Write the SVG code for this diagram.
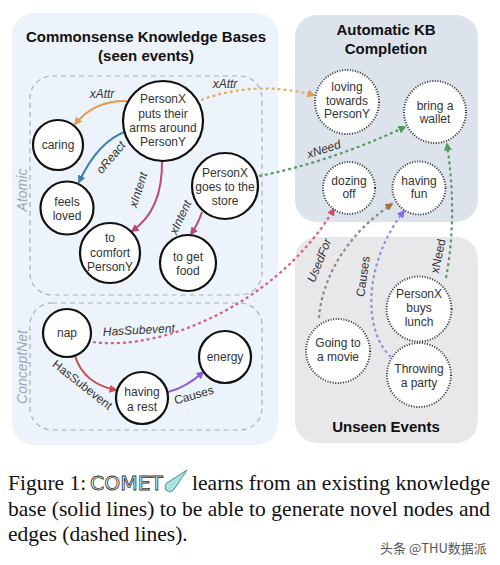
<svg xmlns="http://www.w3.org/2000/svg" width="500" height="565" viewBox="0 0 500 565">
<style>
.t{font-family:"Liberation Sans",Arial,sans-serif;font-size:12px;fill:#333;text-anchor:middle}
.title{font-family:"Liberation Sans",Arial,sans-serif;font-size:15px;font-weight:bold;fill:#111;text-anchor:middle}
.lab{font-family:"Liberation Sans",Arial,sans-serif;font-size:12px;fill:#333;text-anchor:middle}
.it{font-style:italic}
.grp{font-family:"Liberation Sans",Arial,sans-serif;font-size:14px;fill:#9aa7b8;text-anchor:middle;font-style:italic}
.n{fill:#fff;stroke:#111;stroke-width:2.2}
.d{fill:#fff;stroke:#333;stroke-width:2;stroke-dasharray:1 1.6}
.box{fill:none;stroke:#aab0b8;stroke-width:1.2;stroke-dasharray:5 4}
.e{fill:none;stroke-width:2}
.de{fill:none;stroke-width:2.2;stroke-dasharray:3 3}
.cap{font-family:"Liberation Serif","Times New Roman",serif;font-size:21.5px;fill:#111}
</style>
<defs>
<marker id="mOr" viewBox="0 0 10 10" refX="8" refY="5" markerWidth="8" markerHeight="8" markerUnits="userSpaceOnUse" orient="auto"><path d="M0,0 L10,5 L0,10 Z" fill="#e49a4f"/></marker>
<marker id="mBl" viewBox="0 0 10 10" refX="8" refY="5" markerWidth="8" markerHeight="8" markerUnits="userSpaceOnUse" orient="auto"><path d="M0,0 L10,5 L0,10 Z" fill="#3f7fb3"/></marker>
<marker id="mMg" viewBox="0 0 10 10" refX="8" refY="5" markerWidth="8" markerHeight="8" markerUnits="userSpaceOnUse" orient="auto"><path d="M0,0 L10,5 L0,10 Z" fill="#b8487e"/></marker>
<marker id="mRd" viewBox="0 0 10 10" refX="8" refY="5" markerWidth="8" markerHeight="8" markerUnits="userSpaceOnUse" orient="auto"><path d="M0,0 L10,5 L0,10 Z" fill="#c44f4f"/></marker>
<marker id="mPu" viewBox="0 0 10 10" refX="8" refY="5" markerWidth="8" markerHeight="8" markerUnits="userSpaceOnUse" orient="auto"><path d="M0,0 L10,5 L0,10 Z" fill="#8d5ddb"/></marker>
<marker id="mGr" viewBox="0 0 10 10" refX="8" refY="5" markerWidth="8" markerHeight="8" markerUnits="userSpaceOnUse" orient="auto"><path d="M0,0 L10,5 L0,10 Z" fill="#4f9a5a"/></marker>
<marker id="mPk" viewBox="0 0 10 10" refX="8" refY="5" markerWidth="8" markerHeight="8" markerUnits="userSpaceOnUse" orient="auto"><path d="M0,0 L10,5 L0,10 Z" fill="#d24a6a"/></marker>
<marker id="mBr" viewBox="0 0 10 10" refX="8" refY="5" markerWidth="8" markerHeight="8" markerUnits="userSpaceOnUse" orient="auto"><path d="M0,0 L10,5 L0,10 Z" fill="#a4703c"/></marker>
<marker id="mLv" viewBox="0 0 10 10" refX="8" refY="5" markerWidth="8" markerHeight="8" markerUnits="userSpaceOnUse" orient="auto"><path d="M0,0 L10,5 L0,10 Z" fill="#8a6be0"/></marker>
</defs>
<rect width="500" height="565" fill="#fff"/>

<g id="panels">
<rect x="12" y="13" width="266" height="432" rx="22" fill="#edf3fa"/>
<rect x="295" y="15" width="183" height="207" rx="22" fill="#dde3eb"/>
<rect x="295" y="237" width="183" height="206" rx="22" fill="#e8e8ea"/>
<rect class="box" x="30" y="76" width="232" height="219" rx="22"/>
<rect class="box" x="30" y="303" width="232" height="127" rx="22"/>
<text class="title" x="146" y="42">Commonsense Knowledge Bases</text>
<text class="title" x="146" y="61">(seen events)</text>
<text class="title" x="386" y="35">Automatic KB</text>
<text class="title" x="386" y="54">Completion</text>
<text class="title" x="386" y="432">Unseen Events</text>
<text class="grp" transform="translate(27,190) rotate(-90)">Atomic</text>
<text class="grp" transform="translate(27,367) rotate(-90)">ConceptNet</text>
</g>

<g id="connectors">
<path class="e" stroke="#e49a4f" d="M127,101 Q95,100 75,124" marker-end="url(#mOr)"/>
<path class="e" stroke="#3f7fb3" d="M127,131 Q98,141 79,182" marker-end="url(#mBl)"/>
<path class="e" stroke="#b8487e" d="M162,160 Q163,210 132,231" marker-end="url(#mMg)"/>
<path class="e" stroke="#b8487e" d="M202,212 Q198,224 191,234" marker-end="url(#mMg)"/>
<path class="e" stroke="#c44f4f" d="M75,356 Q84,384 116,390" marker-end="url(#mRd)"/>
<path class="e" stroke="#8d5ddb" d="M168,392 Q187,387 203,372" marker-end="url(#mPu)"/>
<path class="de" stroke="#e0ad70" d="M201,100 Q255,80 314,95" marker-end="url(#mOr)"/>
<path class="de" stroke="#5a9a66" d="M259,176 Q330,162 405,127" marker-end="url(#mGr)"/>
<path class="de" stroke="#d45f7e" d="M93,342 C165,352 280,300 334,209" marker-end="url(#mPk)"/>
<path class="de" stroke="#8a8a8a" d="M319,318 C322,275 350,232 392,204" marker-end="url(#mBr)"/>
<path class="de" stroke="#8f8fe6" d="M391,357 C362,330 364,262 404,211" marker-end="url(#mLv)"/>
<path class="de" stroke="#5a9a66" d="M446,278 C455,230 453,185 447,144" marker-end="url(#mGr)"/>
<text class="lab it" x="102" y="98">xAttr</text>
<text class="lab it" transform="translate(114,160) rotate(-50)">oReact</text>
<text class="lab it" transform="translate(142,191) rotate(-72)">xIntent</text>
<text class="lab it" transform="translate(184,219) rotate(-65)" font-size="11">xIntent</text>
<text class="lab it" x="225" y="88">xAttr</text>
<text class="lab it" transform="translate(325,153) rotate(-18)">xNeed</text>
<text class="lab it" transform="translate(139,334) rotate(-3)">HasSubevent</text>
<text class="lab" transform="translate(80,388) rotate(38)">HasSubevent</text>
<text class="lab" transform="translate(195,399) rotate(-16)">Causes</text>
<text class="lab it" transform="translate(323,262) rotate(-68)">UsedFor</text>
<text class="lab" transform="translate(367,277) rotate(-82)">Causes</text>
<text class="lab" transform="translate(442,257) rotate(-78)">xNeed</text>
</g>

<g id="n-arms"><circle class="n" cx="163" cy="121" r="40"/><text class="t" x="163"><tspan x="163" y="103">PersonX</tspan><tspan x="163" y="118">puts their</tspan><tspan x="163" y="132">arms around</tspan><tspan x="163" y="146">PersonY</tspan></text></g>
<g id="n-caring"><circle class="n" cx="58" cy="145" r="25"/><text class="t" x="58" y="149">caring</text></g>
<g id="n-loved"><circle class="n" cx="67" cy="208" r="26.5"/><text class="t"><tspan x="67" y="206">feels</tspan><tspan x="67" y="220">loved</tspan></text></g>
<g id="n-comfort"><circle class="n" cx="110" cy="253" r="30"/><text class="t"><tspan x="110" y="242">to</tspan><tspan x="110" y="257">comfort</tspan><tspan x="110" y="271">PersonY</tspan></text></g>
<g id="n-store"><circle class="n" cx="225" cy="186" r="33"/><text class="t"><tspan x="225" y="177">PersonX</tspan><tspan x="225" y="191">goes to the</tspan><tspan x="225" y="205">store</tspan></text></g>
<g id="n-food"><circle class="n" cx="188" cy="263" r="28"/><text class="t"><tspan x="188" y="261">to get</tspan><tspan x="188" y="275">food</tspan></text></g>
<g id="n-nap"><circle class="n" cx="67" cy="333" r="24"/><text class="t" x="67" y="337">nap</text></g>
<g id="n-rest"><circle class="n" cx="142" cy="398" r="26"/><text class="t"><tspan x="142" y="396">having</tspan><tspan x="142" y="411">a rest</tspan></text></g>
<g id="n-energy"><circle class="n" cx="225" cy="357" r="26"/><text class="t" x="225" y="361">energy</text></g>

<g id="n-loving"><circle class="d" cx="347" cy="102" r="32"/><text class="t"><tspan x="347" y="91">loving</tspan><tspan x="347" y="105">towards</tspan><tspan x="347" y="118">PersonY</tspan></text></g>
<g id="n-wallet"><circle class="d" cx="435" cy="112" r="31"/><text class="t"><tspan x="435" y="110">bring a</tspan><tspan x="435" y="123">wallet</tspan></text></g>
<g id="n-dozing"><circle class="d" cx="349" cy="188" r="26"/><text class="t"><tspan x="349" y="185">dozing</tspan><tspan x="349" y="198">off</tspan></text></g>
<g id="n-fun"><circle class="d" cx="419" cy="188" r="26.5"/><text class="t"><tspan x="419" y="185">having</tspan><tspan x="419" y="198">fun</tspan></text></g>
<g id="n-lunch"><circle class="d" cx="419" cy="309" r="32.5"/><text class="t"><tspan x="419" y="298">PersonX</tspan><tspan x="419" y="312">buys</tspan><tspan x="419" y="326">lunch</tspan></text></g>
<g id="n-movie"><circle class="d" cx="338" cy="351" r="32"/><text class="t"><tspan x="338" y="347">Going to</tspan><tspan x="338" y="361">a movie</tspan></text></g>
<g id="n-party"><circle class="d" cx="419" cy="375" r="32"/><text class="t"><tspan x="419" y="373">Throwing</tspan><tspan x="419" y="387">a party</tspan></text></g>

<g id="caption">
<text class="cap" x="8" y="490">Figure 1:</text>
<text x="90" y="490" font-family="'DejaVu Sans',sans-serif" font-size="19" fill="none" stroke="#333" stroke-width="0.8" textLength="73" lengthAdjust="spacingAndGlyphs">COMET</text>
<path d="M166,490 Q163,484 170,481 L187,470 L175,488 Q171,494 166,490 Z" fill="#aee3da" stroke="#3b8f9c" stroke-width="1"/>
<text class="cap" x="192" y="490" textLength="298" lengthAdjust="spacing">learns from an existing knowledge</text>
<text class="cap" x="8" y="515.5" textLength="482" lengthAdjust="spacing">base (solid lines) to be able to generate novel nodes and</text>
<text class="cap" x="8" y="541">edges (dashed lines).</text>
<text x="380" y="553" font-family="'Noto Sans CJK SC','Noto Sans',sans-serif" font-size="13" fill="#555">头条 @THU数据派</text>
</g>
</svg>
